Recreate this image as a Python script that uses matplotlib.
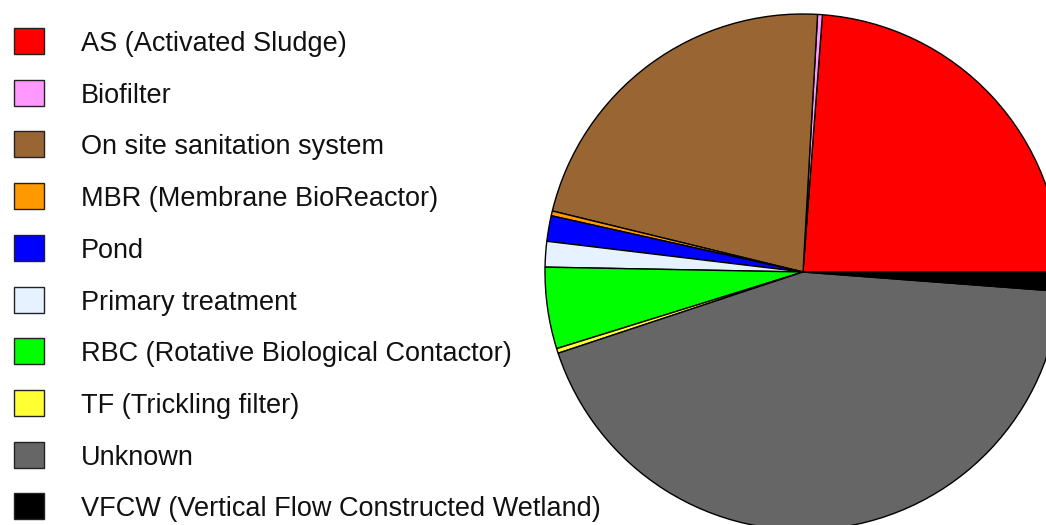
import matplotlib.pyplot as plt
from matplotlib.patches import Rectangle

labels = [
    "AS (Activated Sludge)",
    "Biofilter",
    "On site sanitation system",
    "MBR (Membrane BioReactor)",
    "Pond",
    "Primary treatment",
    "RBC (Rotative Biological Contactor)",
    "TF (Trickling filter)",
    "Unknown",
    "VFCW (Vertical Flow Constructed Wetland)",
]
shares = [23.8, 0.3, 22.1, 0.3, 1.6, 1.6, 5.1, 0.3, 43.7, 1.2]
colors = ["#FF0000", "#FF99FF", "#996633", "#FF9900", "#0000FF",
          "#E6F2FF", "#00FF00", "#FFFF33", "#666666", "#000000"]

W, H = 1046, 525
fig = plt.figure(figsize=(W / 100, H / 100), dpi=100)

# whole-figure axes in pixel units
ax = fig.add_axes([0, 0, 1, 1])
ax.set_xlim(0, W)
ax.set_ylim(0, H)
ax.set_aspect("equal")
ax.axis("off")

ax.pie(shares, colors=colors, startangle=0, counterclock=True,
       center=(803, H - 272), radius=258,
       wedgeprops=dict(edgecolor="black", linewidth=1))
ax.set_xlim(0, W)
ax.set_ylim(0, H)

# legend drawn by hand, rows top to bottom
for i, (lab, col) in enumerate(zip(labels, colors)):
    yc = H - (41 + i * 51.7)
    ax.add_patch(Rectangle((14, yc - 13), 30, 26, facecolor=col,
                           edgecolor="#222222", linewidth=1))
    ax.text(81, yc - 3, lab, fontsize=19.5, family="Liberation Sans",
            color="#111111", va="center", ha="left")

fig.savefig("out.png", dpi=100)
